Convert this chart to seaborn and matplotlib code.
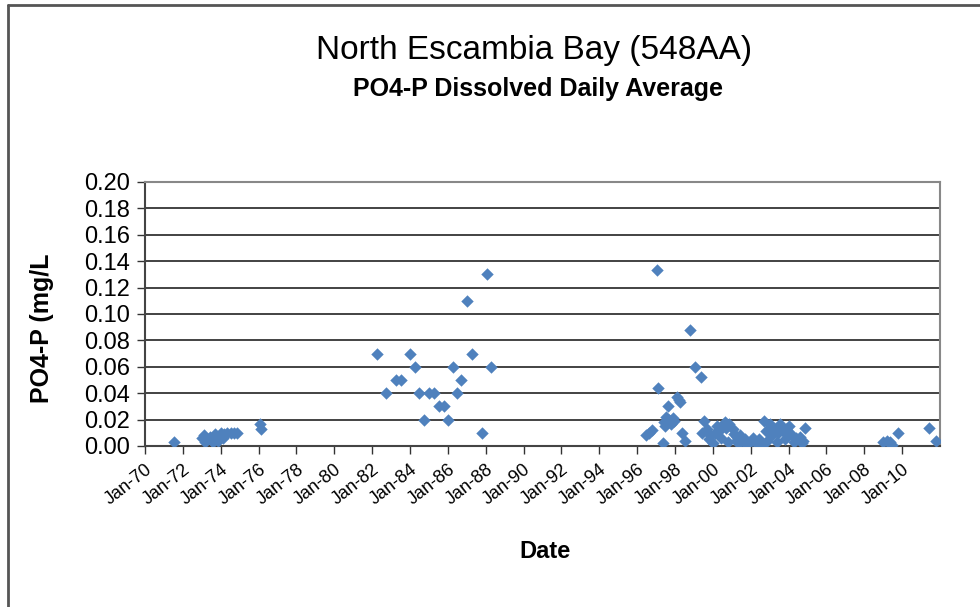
import pandas as pd
import matplotlib
matplotlib.use("Agg")
import matplotlib.pyplot as plt
import matplotlib.dates as mdates
import seaborn as sns

# sample dates and dissolved PO4-P daily averages (mg/L)
sample_dates = [
    "1971-07-10",
    "1973-01-10", "1973-02-10", "1973-03-10", "1973-04-10", "1973-06-10",
    "1973-07-10", "1973-08-10", "1973-09-10", "1973-10-10", "1973-11-10",
    "1973-12-10", "1974-01-10", "1974-02-10", "1974-03-10", "1974-05-10",
    "1974-07-10", "1974-09-10", "1974-11-10",
    "1976-01-20", "1976-02-10",
    "1982-04-01", "1982-10-01", "1983-04-01", "1983-07-15", "1984-01-10",
    "1984-04-10", "1984-06-20", "1984-09-20", "1985-01-10", "1985-04-10",
    "1985-07-20", "1985-10-20", "1986-01-05", "1986-04-10", "1986-06-20",
    "1986-09-20", "1987-01-05", "1987-04-10", "1987-10-20", "1988-01-20",
    "1988-04-20",
    "1996-06-15", "1996-08-15", "1996-10-15", "1997-01-15", "1997-02-10",
    "1997-05-05", "1997-05-25", "1997-06-15", "1997-07-15", "1997-08-15",
    "1997-09-15", "1997-10-15", "1997-11-15", "1997-12-15", "1998-02-10",
    "1998-03-10", "1998-04-10", "1998-05-15", "1998-07-15", "1998-10-15",
    "1999-01-20", "1999-05-15", "1999-07-15", "1999-06-10", "1999-09-15",
    "1999-10-15", "1999-11-15", "2000-01-10", "2000-02-15", "2000-03-15",
    "2000-05-15", "2000-06-15", "2000-07-15", "2000-08-15", "2000-09-15",
    "2000-10-15", "2000-11-15", "2001-01-15", "2001-02-15", "2001-03-15",
    "2001-04-15", "2001-05-15", "2001-06-15", "2001-08-15", "2001-09-15",
    "2001-11-15", "2002-01-15", "2002-02-15", "2002-04-15", "2002-05-15",
    "2002-06-15", "2002-08-15", "2002-09-15", "2002-10-15", "2002-11-15",
    "2003-01-15", "2003-02-15", "2003-03-15", "2003-05-15", "2003-06-15",
    "2003-07-15", "2003-09-15", "2003-10-15", "2003-11-15", "2004-01-15",
    "2004-02-15", "2004-04-15", "2004-05-15", "2004-08-15", "2004-09-15",
    "2004-10-15", "2004-11-15",
    "2008-12-20", "2009-03-20", "2009-05-20", "2009-06-20", "2009-10-20",
    "2011-06-10", "2011-10-15",
]
po4_values = [
    0.003,
    0.006, 0.008, 0.003, 0.005, 0.007,
    0.004, 0.003, 0.009, 0.006, 0.004,
    0.008, 0.010, 0.006, 0.009, 0.010,
    0.010, 0.010, 0.010,
    0.017, 0.013,
    0.070, 0.040, 0.050, 0.050, 0.070,
    0.060, 0.040, 0.020, 0.040, 0.040,
    0.030, 0.030, 0.020, 0.060, 0.040,
    0.050, 0.110, 0.070, 0.010, 0.130,
    0.060,
    0.008, 0.010, 0.012, 0.133, 0.044,
    0.002, 0.018, 0.015, 0.022, 0.030,
    0.020, 0.017, 0.021, 0.019, 0.037,
    0.035, 0.033, 0.010, 0.004, 0.088,
    0.060, 0.052, 0.019, 0.010, 0.013,
    0.005, 0.008, 0.002, 0.010, 0.015,
    0.012, 0.006, 0.016, 0.018, 0.014,
    0.003, 0.017, 0.013, 0.009, 0.004,
    0.007, 0.002, 0.008, 0.003, 0.005,
    0.002, 0.004, 0.006, 0.002, 0.003,
    0.005, 0.001, 0.019, 0.011, 0.004,
    0.017, 0.008, 0.014, 0.003, 0.010,
    0.017, 0.011, 0.005, 0.013, 0.015,
    0.009, 0.003, 0.006, 0.007, 0.002,
    0.004, 0.014,
    0.003, 0.004, 0.003, 0.001, 0.010,
    0.014, 0.004,
]
y_ticks = [0.00, 0.02, 0.04, 0.06, 0.08, 0.10, 0.12, 0.14, 0.16, 0.18, 0.20]
x_tick_years = list(range(1970, 2011, 2))

df = pd.DataFrame({"Date": pd.to_datetime(sample_dates), "PO4": po4_values})

sns.set_style("white")
plt.rcParams["font.family"] = ["Liberation Sans", "DejaVu Sans"]
plt.rcParams["text.color"] = "black"
plt.rcParams["xtick.color"] = "black"
plt.rcParams["ytick.color"] = "black"

fig = plt.figure(figsize=(9.8, 6.07), dpi=100)
ax = fig.add_axes([145 / 980, 1 - 446 / 607, 795 / 980, 264 / 607])

sns.scatterplot(data=df, x="Date", y="PO4", marker="D", s=40,
                color="#4F81BD", edgecolor="#4F81BD", linewidth=0,
                clip_on=True, ax=ax, zorder=3)

ax.set_xlim(pd.Timestamp("1970-01-01"), pd.Timestamp("2012-01-01"))
ax.set_ylim(0, 0.20)
ax.set_yticks(y_ticks)
ax.set_yticklabels([f"{v:.2f}" for v in y_ticks], fontsize=17)
ax.set_xticks([pd.Timestamp(f"{yr}-01-01") for yr in x_tick_years])
ax.xaxis.set_major_formatter(mdates.DateFormatter("%b-%y"))
plt.setp(ax.get_xticklabels(), rotation=38, ha="right",
         rotation_mode="anchor", fontsize=13)
ax.tick_params(axis="both", direction="out", length=6, width=1,
               color="#333333", left=True, bottom=True)
ax.tick_params(axis="y", pad=5)
ax.tick_params(axis="x", pad=5)

ax.grid(axis="y", color="#222222", linewidth=1.2)
ax.set_axisbelow(True)
ax.spines["left"].set_color("#444444")
ax.spines["left"].set_linewidth(1.5)
ax.spines["bottom"].set_color("#444444")
ax.spines["bottom"].set_linewidth(1.5)
ax.spines["top"].set_color("#888888")
ax.spines["right"].set_color("#888888")
ax.spines["top"].set_linewidth(1.5)
ax.spines["right"].set_linewidth(1.5)

ax.set_xlabel("")
ax.set_ylabel("")
fig.text(545 / 980, 1 - 551 / 607, "Date", ha="center", va="center",
         fontsize=17, fontweight="bold")
fig.text(42 / 980, 1 - 328 / 607, "PO4-P (mg/L", ha="center", va="center",
         rotation=90, fontsize=18, fontweight="bold")

fig.text(534 / 980, 1 - 50 / 607, "North Escambia Bay (548AA)",
         ha="center", va="center", fontsize=24)
fig.text(538 / 980, 1 - 89 / 607, "PO4-P Dissolved Daily Average",
         ha="center", va="center", fontsize=18, fontweight="bold")

# outer chart frame (top and left edges visible)
fig.add_artist(plt.Line2D([8 / 980, 1], [1 - 5 / 607, 1 - 5 / 607],
                          transform=fig.transFigure, color="#555555", lw=2))
fig.add_artist(plt.Line2D([8 / 980, 8 / 980], [0, 1 - 5 / 607],
                          transform=fig.transFigure, color="#555555", lw=2))

fig.savefig("out.png", dpi=100)
